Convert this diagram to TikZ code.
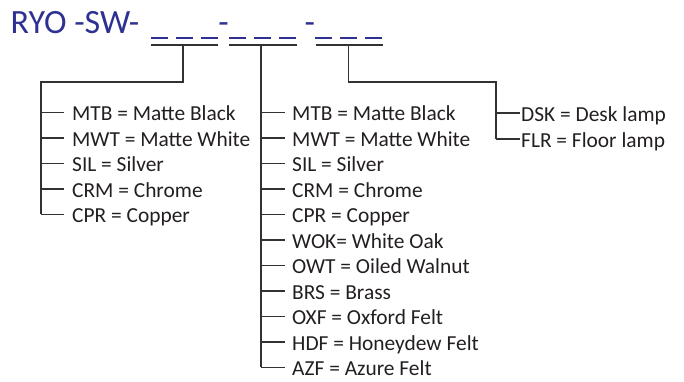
\documentclass[tikz,border=0pt]{standalone}
\usepackage{fontspec}
\setmainfont{Carlito}
\definecolor{ryoblue}{RGB}{46,49,146}
\definecolor{ink}{RGB}{35,31,32}
\definecolor{wire}{RGB}{50,50,50}
\begin{document}
\begin{tikzpicture}[x=1bp,y=-1bp,
  wirestyle/.style={draw=wire, line width=1.6bp},
  blank/.style={draw=ryoblue, line width=2.6bp},
  titlefont/.style={inner sep=0pt, text=ryoblue, font=\fontsize{34bp}{40bp}\selectfont},
  item/.style={anchor=base west, inner ysep=0pt, font=\fontsize{21.4bp}{25bp}\selectfont, text=ink},
  ]
\useasboundingbox (0,0) rectangle (684,381);
\node[titlefont, anchor=base west] (title) at (10.5,33.3) {RYO -SW-};
\node[titlefont, anchor=base] (sep1) at (223.5,33.3) {-};
\node[titlefont, anchor=base] (sep2) at (309.8,33.3) {-};

% blue blanks
\foreach \xa/\xb in {151/167.7, 175.7/193, 201/218, 229/246, 254/271, 279/296, 315/332, 340/357, 365/382}
  \draw[blank] (\xa,38) -- (\xb,38);

% underlines under the three code groups
\coordinate (u1a) at (151,44.7); \coordinate (u1b) at (218,44.7); \coordinate (g1) at (183,44.7);
\coordinate (u2a) at (229,44.7); \coordinate (u2b) at (297,44.7); \coordinate (g2) at (261,44.7);
\coordinate (u3a) at (315.7,44.7); \coordinate (u3b) at (383,44.7); \coordinate (g3) at (348.3,44.7);
\draw[wirestyle] (u1a) -- (u1b);
\draw[wirestyle] (u2a) -- (u2b);
\draw[wirestyle] (u3a) -- (u3b);

% left tree
\coordinate (h1) at (183,81.7);
\coordinate (a0) at (41,81.7);
\foreach \txt [count=\i] in {MTB = Matte Black, MWT = Matte White, SIL = Silver, CRM = Chrome, CPR = Copper} {
  \coordinate (la\i) at (41,{112.3+25.5*(\i-1)});
  \node[item, inner xsep=8bp] (lt\i) at (64,{120.7+25.5*(\i-1)}) {\txt};
  \draw[wirestyle] (la\i) -- (la\i -| lt\i.west);
}
\draw[wirestyle] (g1) -- (h1) -- (a0) -- (la5);

% middle tree
\foreach \txt [count=\i] in {MTB = Matte Black, MWT = Matte White, SIL = Silver, CRM = Chrome, CPR = Copper, WOK= White Oak, OWT = Oiled Walnut, BRS = Brass, OXF = Oxford Felt, HDF = Honeydew Felt, AZF = Azure Felt} {
  \coordinate (ma\i) at (261,{112.3+25.5*(\i-1)});
  \node[item, inner xsep=7bp] (mt\i) at (285,{120.7+25.5*(\i-1)}) {\txt};
  \draw[wirestyle] (ma\i) -- (ma\i -| mt\i.west);
}
\draw[wirestyle] (g2) -- (ma11);

% right tree
\coordinate (h3) at (348.3,81.7);
\coordinate (r0) at (495.7,81.7);
\foreach \txt [count=\i] in {DSK = Desk lamp, FLR = Floor lamp} {
  \coordinate (ra\i) at (495.7,{112.8+26.2*(\i-1)});
  \node[item, inner xsep=1bp] (rt\i) at (520,{121.2+26.2*(\i-1)}) {\txt};
  \draw[wirestyle] (ra\i) -- (ra\i -| rt\i.west);
}
\draw[wirestyle] (g3) -- (h3) -- (r0) -- (ra2);
\end{tikzpicture}
\end{document}
